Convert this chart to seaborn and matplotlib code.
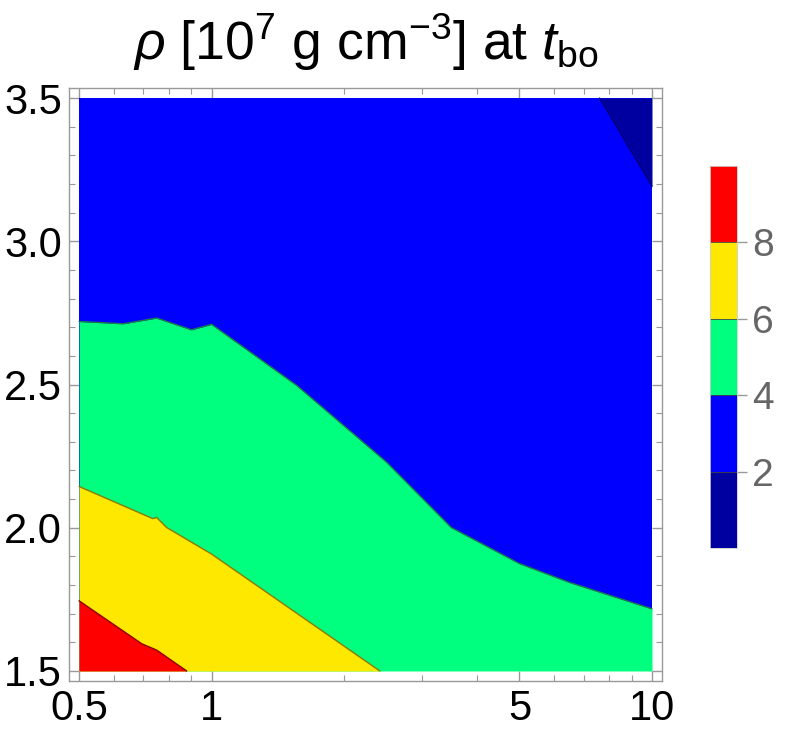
import numpy as np
import matplotlib
matplotlib.use('Agg')
import matplotlib as mpl
import matplotlib.pyplot as plt
from matplotlib.colors import ListedColormap, BoundaryNorm
from matplotlib.ticker import FixedLocator, MultipleLocator, NullFormatter, NullLocator
import seaborn as sns

sns.set_theme(style='white')
plt.rcParams['font.family'] = ['Liberation Sans', 'DejaVu Sans']
plt.rcParams['mathtext.fontset'] = 'custom'
plt.rcParams['mathtext.rm'] = 'Liberation Sans'
plt.rcParams['mathtext.it'] = 'Liberation Sans:italic'
plt.rcParams['mathtext.bf'] = 'Liberation Sans:bold'

# plotted domain
x_range = [0.5, 10.0]
y_range = [1.5, 3.5]

# contour boundaries (x, y where rho crosses each level)
lvl2_x = [7.6, 10.0]
lvl2_y = [3.5, 3.192]

lvl4_x = [0.5, 0.63, 0.75, 0.9, 1.0, 1.56, 2.5, 3.5, 5.0, 6.5, 10.0]
lvl4_y = [2.720, 2.712, 2.732, 2.691, 2.710, 2.497, 2.228, 2.001, 1.875, 1.809, 1.717]

lvl6_x = [0.5, 0.735, 0.75, 0.79, 1.0, 2.41]
lvl6_y = [2.144, 2.032, 2.036, 2.001, 1.908, 1.5]

lvl8_x = [0.5, 0.694, 0.75, 0.878]
lvl8_y = [1.745, 1.595, 1.573, 1.5]

band_levels = [0, 2, 4, 6, 8, 10]
band_colors = ['#0000a0', '#0000ff', '#00ff7f', '#ffe800', '#ff0000']
edge_colors = ['#00007a', '#1a7a4a', '#8c7a00', '#8b0000']

x_ticks = [0.5, 1, 5, 10]
x_ticklabels = ['0.5', '1', '5', '10']
x_minor = [0.6, 0.7, 0.8, 0.9, 2, 3, 4, 6, 7, 8, 9]
y_ticks = [1.5, 2.0, 2.5, 3.0, 3.5]

fig = plt.figure(figsize=(7.89, 7.40), dpi=100)
ax = fig.add_axes([0.0875, 0.0797, 0.7516, 0.8014])
ax.set_xscale('log')

# filled bands, bottom layer first
ax.fill_between(x_range, y_range[0], y_range[1], color=band_colors[1], lw=0)
ax.fill_between(lvl4_x, y_range[0], lvl4_y, color=band_colors[2], lw=0)
ax.fill_between(lvl6_x, y_range[0], lvl6_y, color=band_colors[3], lw=0)
ax.fill_between(lvl8_x, y_range[0], lvl8_y, color=band_colors[4], lw=0)
ax.fill_between(lvl2_x, lvl2_y, y_range[1], color=band_colors[0], lw=0)

# thin contour lines
for xs, ys, c in [(lvl2_x, lvl2_y, edge_colors[0]), (lvl4_x, lvl4_y, edge_colors[1]),
                  (lvl6_x, lvl6_y, edge_colors[2]), (lvl8_x, lvl8_y, edge_colors[3])]:
    sns.lineplot(x=xs, y=ys, ax=ax, color=c, lw=1.0, sort=False, estimator=None)

ax.set_xlim(0.4745, 10.54)
ax.set_ylim(1.465, 3.535)

ax.set_xticks(x_ticks)
ax.set_xticklabels(x_ticklabels)
ax.xaxis.set_minor_locator(FixedLocator(x_minor))
ax.xaxis.set_minor_formatter(NullFormatter())
ax.set_yticks(y_ticks)
ax.set_yticklabels([f'{v:.1f}' for v in y_ticks])
ax.yaxis.set_minor_locator(MultipleLocator(0.1))

ax.tick_params(which='both', direction='in', top=True, right=True, bottom=True, left=True,
               color='#999999')
ax.tick_params(which='major', length=7, width=1, labelsize=30, labelcolor='black')
ax.tick_params(axis='x', which='major', pad=6)
ax.tick_params(axis='y', which='major', pad=5)
ax.tick_params(which='minor', length=4, width=0.8)
for s in ax.spines.values():
    s.set_visible(True)
    s.set_color('#999999')
    s.set_linewidth(1.0)

ax.set_title(r'$\rho$ [10$^7$ g cm$^{-3}$] at $t_{\mathrm{bo}}$', fontsize=38.5,
             color='black', pad=20)

# legend bar
cmap = ListedColormap(band_colors)
norm = BoundaryNorm(band_levels, cmap.N)
cax = fig.add_axes([0.8999, 0.2595, 0.0342, 0.5162])
cb = fig.colorbar(mpl.cm.ScalarMappable(norm=norm, cmap=cmap), cax=cax,
                  ticks=band_levels[1:-1], drawedges=True)
cb.dividers.set_color('#444444')
cb.dividers.set_linewidth(0.6)
cb.outline.set_edgecolor('#cccccc')
cb.outline.set_linewidth(0.6)
cb.minorticks_off()
cax.yaxis.set_minor_locator(NullLocator())
cax.tick_params(direction='out', length=7, width=1, color='#999999',
                labelcolor='#666666', labelsize=28, pad=4)

fig.savefig('out.png', dpi=100)
